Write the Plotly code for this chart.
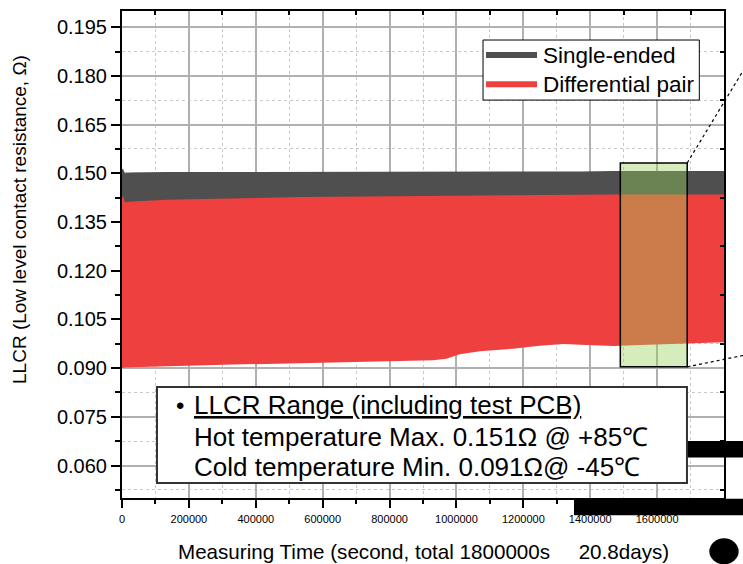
import plotly.graph_objects as go

# ---------------- data ----------------
time_s = [0, 3000, 8000, 30000, 134000, 333000, 532000, 732000, 930000, 970000,
          1010000, 1070000, 1170000, 1240000, 1320000, 1370000, 1470000, 1550000,
          1690000, 1800000]

single_high = [0.1512, 0.1515, 0.1500, 0.1502, 0.1504, 0.1504, 0.1504, 0.1504, 0.1505, 0.1505,
               0.1505, 0.1505, 0.1506, 0.1506, 0.1506, 0.1506, 0.1507, 0.1507,
               0.1507, 0.1507]
single_low = [0.1420, 0.1420, 0.1405, 0.1407, 0.1412, 0.1418, 0.1420, 0.1422, 0.1424, 0.1424,
              0.1425, 0.1425, 0.1426, 0.1427, 0.1427, 0.1427, 0.1428, 0.1428,
              0.1428, 0.1428]

diff_high = [0.1427, 0.1430, 0.1411, 0.1413, 0.1419, 0.1424, 0.1427, 0.1429, 0.1431, 0.1431,
             0.1432, 0.1432, 0.1433, 0.1434, 0.1434, 0.1434, 0.1435, 0.1435,
             0.1435, 0.1435]
diff_low = [0.0900, 0.0900, 0.0902, 0.0903, 0.0906, 0.0911, 0.0915, 0.0919, 0.0924, 0.0929,
            0.0943, 0.0952, 0.0960, 0.0968, 0.0974, 0.0972, 0.0968, 0.0971,
            0.0976, 0.0980]

series_names = ["Single-ended", "Differential pair"]
series_colors = ["#4f4f4f", "#ef4040"]

x_range = [0, 1800000]
y_range = [0.05, 0.2]
x_minor_ticks = [100000, 300000, 500000, 700000, 900000, 1100000, 1300000, 1500000, 1700000]
y_minor_ticks = [0.0525, 0.0675, 0.0825, 0.0975, 0.1125, 0.1275, 0.1425, 0.1575, 0.1725, 0.1875]

# highlighted window
hl_t0, hl_t1 = 1490000, 1690000
hl_v0, hl_v1 = 0.0904, 0.1532

note_lines = ["<u>LLCR Range (including test PCB)</u>",
              "Hot temperature Max. 0.151Ω @ +85℃",
              "Cold temperature Min. 0.091Ω@ -45℃"]

FONT = "Liberation Sans, Arial, sans-serif"

fig = go.Figure()

# bands
for lo, hi, name, col in [(single_low, single_high, series_names[0], series_colors[0]),
                          (diff_low, diff_high, series_names[1], series_colors[1])]:
    fig.add_trace(go.Scatter(x=time_s, y=lo, mode="lines", line=dict(width=0, color=col),
                             showlegend=False, hoverinfo="skip", name=name + " min"))
    fig.add_trace(go.Scatter(x=time_s, y=hi, mode="lines", line=dict(width=0, color=col),
                             fill="tonexty", fillcolor=col, showlegend=False, hoverinfo="skip",
                             name=name))

# overlay axes for the mirrored (inward, minor-only) ticks
fig.add_trace(go.Scatter(x=[None], y=[None], xaxis="x2", yaxis="y2", showlegend=False, hoverinfo="skip"))

grid_major = "#b0b0b0"
grid_minor = "#c8c8c8"

fig.update_layout(
    width=743, height=564, autosize=False,
    margin=dict(l=122, r=19, t=11, b=66),
    paper_bgcolor="white", plot_bgcolor="white",
    font=dict(family=FONT, color="black"),
    showlegend=False,
    xaxis=dict(range=x_range, dtick=200000, tick0=0, tickformat="d",
               showgrid=True, gridcolor=grid_major, gridwidth=1.5,
               showline=True, linecolor="black", linewidth=2,
               ticks="outside", ticklen=8, tickwidth=1.5, tickcolor="black",
               tickfont=dict(size=11, family=FONT), ticklabelstandoff=2,
               minor=dict(dtick=100000, tick0=0, showgrid=True, gridcolor=grid_minor,
                          griddash="dot", gridwidth=1, ticks="outside", ticklen=4,
                          tickwidth=1.5, tickcolor="black"),
               zeroline=False, fixedrange=True),
    yaxis=dict(range=y_range, dtick=0.015, tick0=0.06, tickformat=".3f",
               showgrid=True, gridcolor=grid_major, gridwidth=1.5,
               showline=True, linecolor="black", linewidth=2,
               ticks="outside", ticklen=9, tickwidth=1.5, tickcolor="black",
               tickfont=dict(size=20, family=FONT),
               minor=dict(dtick=0.0075, tick0=0.0525, showgrid=True, gridcolor=grid_minor,
                          griddash="dot", gridwidth=1, ticks="outside", ticklen=5,
                          tickwidth=1.5, tickcolor="black"),
               zeroline=False, fixedrange=True),
    xaxis2=dict(overlaying="x", side="top", anchor="y2", range=x_range,
                tickmode="array", tickvals=x_minor_ticks, showticklabels=False,
                ticks="inside", ticklen=4, tickwidth=1.5, tickcolor="black",
                showline=True, linecolor="black", linewidth=2, showgrid=False,
                zeroline=False, fixedrange=True),
    yaxis2=dict(overlaying="y", side="right", anchor="x2", range=y_range,
                tickmode="array", tickvals=y_minor_ticks, showticklabels=False,
                ticks="inside", ticklen=4, tickwidth=1.5, tickcolor="black",
                showline=True, linecolor="black", linewidth=2, showgrid=False,
                zeroline=False, fixedrange=True),
)

shapes = []
# highlighted window
shapes.append(dict(type="rect", xref="x", yref="y", x0=hl_t0, x1=hl_t1, y0=hl_v0, y1=hl_v1,
                   fillcolor="rgba(150,210,90,0.4)", line=dict(color="black", width=1.5), layer="above"))
# call-out dotted lines
hx = hl_t1 / x_range[1]
hy_top = (hl_v1 - y_range[0]) / (y_range[1] - y_range[0])
hy_bot = (hl_v0 - y_range[0]) / (y_range[1] - y_range[0])
shapes.append(dict(type="line", xref="paper", yref="paper", x0=hx, y0=hy_top, x1=1.033, y1=0.880,
                   line=dict(color="black", width=1.2, dash="dot")))
shapes.append(dict(type="line", xref="paper", yref="paper", x0=hx, y0=hy_bot, x1=1.033, y1=0.293,
                   line=dict(color="black", width=1.2, dash="dot")))
# redaction marks
shapes.append(dict(type="rect", xref="paper", yref="paper", x0=0.935, x1=1.05, y0=0.083, y1=0.117,
                   fillcolor="black", line=dict(width=0)))
shapes.append(dict(type="rect", xref="paper", yref="paper", x0=0.7508, x1=1.05, y0=-0.0356, y1=-0.0015,
                   fillcolor="black", line=dict(width=0)))
shapes.append(dict(type="circle", xref="paper", yref="paper", x0=0.9756, x1=1.0244, y0=-0.1362, y1=-0.0828,
                   fillcolor="black", line=dict(width=0)))
# note box
shapes.append(dict(type="rect", xref="paper", yref="paper", x0=0.0581, x1=0.9385, y0=0.0308, y1=0.228,
                   fillcolor="white", line=dict(color="#333333", width=2)))
# legend box and keys
shapes.append(dict(type="rect", xref="paper", yref="paper", x0=0.5997, x1=0.959, y0=0.8171, y1=0.9404,
                   fillcolor="white", line=dict(color="black", width=1)))
legend_y = [0.9096, 0.8494]
for col, ly in zip(series_colors, legend_y):
    shapes.append(dict(type="line", xref="paper", yref="paper", x0=0.6047, x1=0.6894, y0=ly, y1=ly,
                       line=dict(color=col, width=6)))
fig.update_layout(shapes=shapes)

annotations = []
for name, ly in zip(series_names, legend_y):
    annotations.append(dict(xref="paper", yref="paper", x=0.6963, y=ly, text=name, showarrow=False,
                            xanchor="left", yanchor="middle", font=dict(size=22.5, family=FONT)))
annotations.append(dict(xref="paper", yref="paper", x=0.0963, y=0.1905, text="•", showarrow=False,
                        xanchor="center", yanchor="middle", font=dict(size=24, family=FONT)))
for txt, yy in zip(note_lines, [0.1905, 0.1247, 0.0631]):
    annotations.append(dict(xref="paper", yref="paper", x=0.1163, y=yy, text=txt, showarrow=False,
                            xanchor="left", yanchor="middle", font=dict(size=26, family=FONT)))
annotations.append(dict(xref="paper", yref="paper", x=0.5, y=-0.1095,
                        text="Measuring Time (second, total 1800000s\u00a0\u00a0\u00a0\u00a0 20.8days)",
                        showarrow=False, xanchor="center", yanchor="middle",
                        font=dict(size=20.6, family=FONT)))
annotations.append(dict(xref="paper", yref="paper", x=-0.1694, y=0.571,
                        text="LLCR (Low level contact resistance, Ω)", textangle=-90,
                        showarrow=False, xanchor="center", yanchor="middle",
                        font=dict(size=19, family=FONT)))
fig.update_layout(annotations=annotations)

fig.write_html("out.html", post_script="document.body.style.margin='0';",
               config={"displayModeBar": False})
